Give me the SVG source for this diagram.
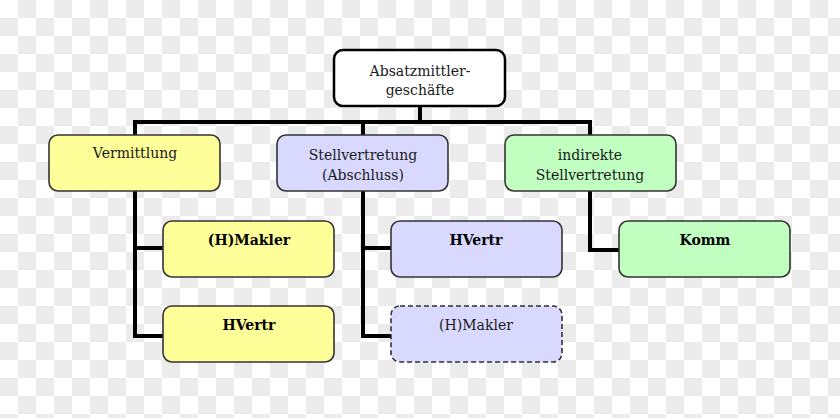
<svg xmlns="http://www.w3.org/2000/svg" width="840" height="418" viewBox="0 0 840 418">
<defs>
<pattern id="chk" x="0" y="0" width="36" height="36" patternUnits="userSpaceOnUse">
<rect x="0" y="0" width="36" height="36" fill="#ffffff"/>
<rect x="18" y="0" width="18" height="18" fill="#ebebeb"/>
<rect x="0" y="18" width="18" height="18" fill="#ebebeb"/>
</pattern>
<style>
.box{stroke:#333333;stroke-width:1.6}
.y{fill:#ffff99}
.b{fill:#d9d9ff}
.g{fill:#c0ffc0}
.w{fill:#ffffff;stroke:#000000;stroke-width:2.5}
.d{stroke-dasharray:5,3}
text{font-family:"DejaVu Serif","Liberation Serif",serif;font-size:14px;fill:#1a1a1a;text-anchor:middle}
.bold{font-weight:bold;fill:#000}
.con{stroke:#000;stroke-width:4;fill:none}
</style>
</defs>
<rect width="840" height="418" fill="url(#chk)"/>
<g id="connectors">
<path class="con" d="M420,106V122M133,122H592M135,122V336H165M135,248H165M363,122V336H393M363,248H393M590,122V250H622"/>
</g>
<g id="n-absatz">
<rect class="w" x="334" y="50" width="171" height="56" rx="9"/>
<text x="420" y="76">Absatzmittler-</text>
<text x="420" y="95">geschäfte</text>
</g>
<g id="n-vermittlung">
<rect class="box y" x="49" y="135" width="171" height="56" rx="9"/>
<text x="135" y="158">Vermittlung</text>
</g>
<g id="n-stellvertretung">
<rect class="box b" x="277" y="135" width="171" height="56" rx="9"/>
<text x="363" y="160">Stellvertretung</text>
<text x="363" y="180">(Abschluss)</text>
</g>
<g id="n-indirekte">
<rect class="box g" x="505" y="135" width="171" height="56" rx="9"/>
<text x="590" y="160">indirekte</text>
<text x="590" y="180">Stellvertretung</text>
</g>
<g id="n-makler1">
<rect class="box y" x="163" y="221" width="171" height="56" rx="9"/>
<text class="bold" x="249" y="245">(H)Makler</text>
</g>
<g id="n-hvertr1">
<rect class="box y" x="163" y="306" width="171" height="56" rx="9"/>
<text class="bold" x="249" y="330">HVertr</text>
</g>
<g id="n-hvertr2">
<rect class="box b" x="391" y="221" width="171" height="56" rx="9"/>
<text class="bold" x="476" y="245">HVertr</text>
</g>
<g id="n-makler2">
<rect class="box b d" x="391" y="306" width="171" height="56" rx="9"/>
<text x="476" y="330">(H)Makler</text>
</g>
<g id="n-komm">
<rect class="box g" x="619" y="221" width="171" height="56" rx="9"/>
<text class="bold" x="705" y="245">Komm</text>
</g>
</svg>
